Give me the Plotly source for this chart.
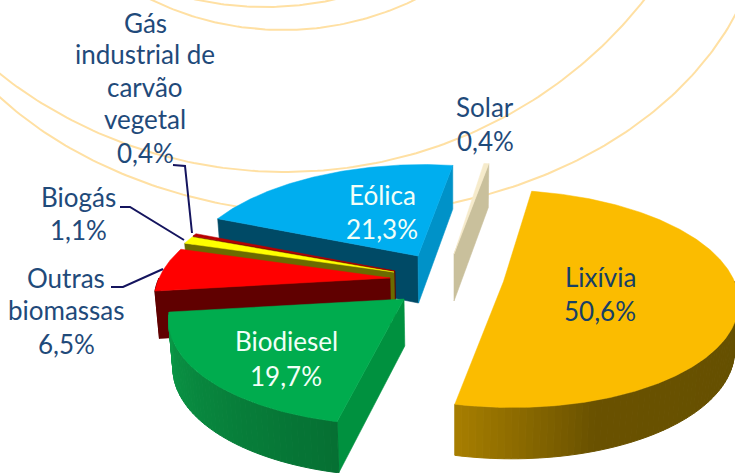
import numpy as np
import plotly.graph_objects as go

# ---- data ----
categories = ["Lixívia", "Biodiesel", "Outras biomassas", "Biogás",
              "Gás industrial de carvão vegetal", "Eólica", "Solar"]
shares = [50.6, 19.7, 6.5, 1.1, 0.4, 21.3, 0.4]
value_labels = ["50,6%", "19,7%", "6,5%", "1,1%", "0,4%", "21,3%", "0,4%"]

# ---- styling per slice ----
top_colors = ["#FBBC00", "#00AC4E", "#FF0000", "#FFFF00", "#B80000", "#00AEEF", "#F6EBCB"]
start_wall = ["#000000", "#00913F", "#600000", "#6B6B00", "#600000", "#004A66", "#C9C09C"]
end_wall = ["#000000", "#000000", "#000000", "#000000", "#000000", "#0092C8", "#C9C09C"]
arc_stops = {
    0: [(0, "#7A5E00"), (0.15, "#655000"), (0.71, "#6A5200"), (1, "#A87F00")],
    1: [(0, "#067033"), (1, "#0B9A48")],
    2: [(0, "#600000"), (1, "#600000")],
}
apex_x = [503.5, 404, 390, 394, 395, 418, 454]
apex_y = [281.5, 299, 278, 272, 271, 256, 254]
draw_order = [6, 5, 4, 3, 2, 1, 0]

# ---- projection of the tilted pie ----
START = 10.0
R, B, K, H, VX, SHRINK = 231, 106, 0.159, 47, 455, 0.985


def project(i, compass, bottom=False):
    a = np.radians(compass)
    u, v = np.sin(a), -np.cos(a)
    s = 1 / (1 - K * v)
    x = VX + (apex_x[i] - VX) * s + R * u * s
    y = apex_y[i] + B * v * s
    if bottom:
        x = VX + (x - VX) * SHRINK
        y = y + H * np.sqrt(s)
    return x, y


def hex_rgb(c):
    return np.array([int(c[j:j + 2], 16) for j in (1, 3, 5)], float)


def mix(stops, t):
    for (t0, c0), (t1, c1) in zip(stops, stops[1:]):
        if t <= t1:
            f = (t - t0) / (t1 - t0)
            r = hex_rgb(c0) * (1 - f) + hex_rgb(c1) * f
            return "rgb(%d,%d,%d)" % tuple(r)
    return stops[-1][1]


fig = go.Figure()


def poly(xs, ys, color, width=0.6):
    fig.add_trace(go.Scatter(x=list(xs), y=list(ys), mode="lines", fill="toself",
                             fillcolor=color, line=dict(color=color, width=width),
                             hoverinfo="skip", showlegend=False))


# decorative background ellipses (centre x, centre y, semi-axes)
for cx, cy, a, b in [(265, -183, 250, 190), (283, -267, 300, 297),
                     (285, -261, 450, 433), (335, -100, 430, 315)]:
    t = np.linspace(0, np.pi, 240)
    fig.add_trace(go.Scatter(x=cx + a * np.cos(t), y=cy + b * np.sin(t), mode="lines",
                             line=dict(color="#FFE0A3", width=2), hoverinfo="skip",
                             showlegend=False))

# slices, back to front
edges = START + np.cumsum([0] + shares) * 3.6
for i in draw_order:
    a0, a1 = edges[i], edges[i + 1]
    # radial walls facing the viewer
    if np.sin(np.radians(a0)) < 0:
        x1, y1 = project(i, a0)
        x2, y2 = project(i, a0, True)
        ax, ay = apex_x[i], apex_y[i]
        poly([ax, x1, x2, VX + (ax - VX) * SHRINK, ax], [ay, y1, y2, ay + H, ay], start_wall[i])
    if np.sin(np.radians(a1)) > 0:
        x1, y1 = project(i, a1)
        x2, y2 = project(i, a1, True)
        ax, ay = apex_x[i], apex_y[i]
        poly([ax, x1, x2, VX + (ax - VX) * SHRINK, ax], [ay, y1, y2, ay + H, ay], end_wall[i])
    # outer curved wall, front half only
    w0, w1 = max(a0, 90), min(a1, 270)
    if w1 > w0 and i in arc_stops:
        n = max(2, int((w1 - w0) / 1.5))
        ws = np.linspace(w0, w1, n + 1)
        for j in range(n):
            sub = np.linspace(ws[j], ws[j + 1], 3)
            tx, ty = project(i, sub)
            bx, by = project(i, sub[::-1], True)
            col = mix(arc_stops[i], (j + 0.5) / n)
            poly(np.r_[tx, bx, tx[0]], np.r_[ty, by, ty[0]], col, 1)
    # top face
    arc = np.linspace(a0, a1, max(3, int((a1 - a0) * 2)))
    x, y = project(i, arc)
    poly(np.r_[apex_x[i], x, apex_x[i]], np.r_[apex_y[i], y, apex_y[i]], top_colors[i], 0.5)

# leader lines
leaders = [([173, 185, 192], [165, 166, 233]),
           ([120, 130, 184], [207, 207, 240]),
           ([111, 123, 163], [287, 287, 269])]
for lx, ly in leaders:
    fig.add_trace(go.Scatter(x=lx, y=ly, mode="lines", line=dict(color="#14145E", width=2),
                             hoverinfo="skip", showlegend=False))

# text
BLUE, WHITE = "#1F4A7A", "#F2FFF8"
text_lines = [
    ("Gás", 145, 23, BLUE), ("industrial de", 145, 54, BLUE), ("carvão", 145, 87, BLUE),
    ("vegetal", 145, 119, BLUE), (value_labels[4], 145, 153, BLUE),
    ("Solar", 485, 107, BLUE), (value_labels[6], 485, 141, BLUE),
    ("Biogás", 78, 197, BLUE), (value_labels[3], 78, 230, BLUE),
    ("Outras", 66, 278, BLUE), ("biomassas", 66, 310, BLUE), (value_labels[2], 66, 344, BLUE),
    (categories[5], 382, 195, WHITE), (value_labels[5], 382, 229, WHITE),
    (categories[1], 286, 341, WHITE), (value_labels[1], 286, 376, WHITE),
    (categories[0], 600, 277, "#173F66"), (value_labels[0], 600, 311, "#173F66"),
]
for txt, tx, ty, col in text_lines:
    fig.add_annotation(x=tx, y=ty, text=txt, showarrow=False, xanchor="center", yanchor="middle",
                       font=dict(family="Lato", size=26, color=col))

fig.update_layout(width=735, height=473, margin=dict(l=0, r=0, t=0, b=0),
                  paper_bgcolor="white", plot_bgcolor="white", showlegend=False,
                  xaxis=dict(range=[0, 735], visible=False, fixedrange=True),
                  yaxis=dict(range=[473, 0], visible=False, fixedrange=True))
fig.write_html("out.html", config={"displayModeBar": False},
               post_script="document.body.style.margin='0';document.documentElement.style.overflow='hidden';")
